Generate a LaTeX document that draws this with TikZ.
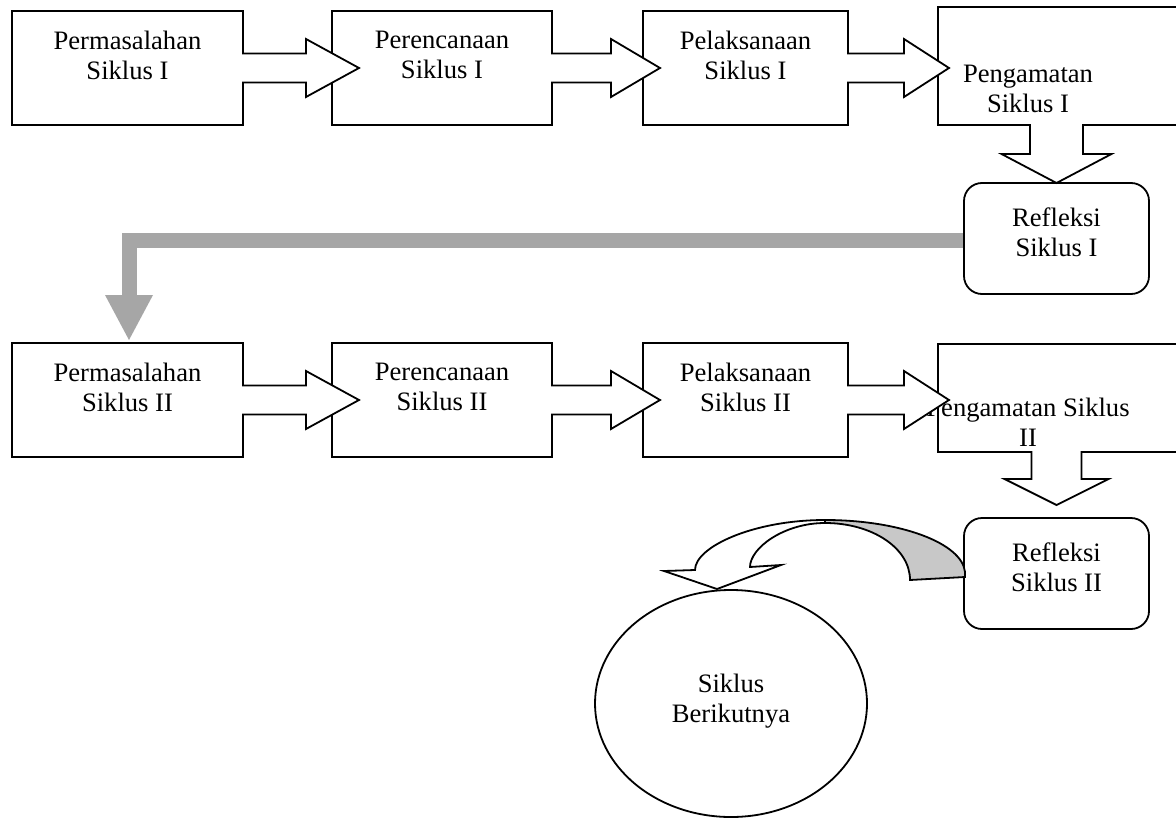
\documentclass[tikz,border=0pt]{standalone}
\usepackage{fontspec}
\setmainfont{Liberation Serif}
\usetikzlibrary{calc,shapes.geometric}
\definecolor{gbar}{HTML}{A6A6A6}
\definecolor{gface}{HTML}{C8C8C8}
% right block arrow: #1 start anchor, #2 shaft length, #3 head length (px)
\newcommand\blockR[3]{%
  \begin{scope}[shift={(#1)}]
    \fill[white] (-2,-14.5) -- (#2,-14.5) -- (#2,-29) -- ({#2+#3},0) -- (#2,29) -- (#2,14.5) -- (-2,14.5) -- cycle;
    \draw[outl] (-0.9,-14.5) -- (#2,-14.5) -- (#2,-29) -- ({#2+#3},0) -- (#2,29) -- (#2,14.5) -- (-0.9,14.5);
  \end{scope}}
% down block arrow: #1 start, #2 shaft length, #3 head length, #4 shaft half width, #5 head half width
\newcommand\blockD[5]{%
  \begin{scope}[shift={(#1)}]
    \fill[white] (-#4,-2) -- (-#4,#2) -- (-#5,#2) -- (0,{#2+#3}) -- (#5,#2) -- (#4,#2) -- (#4,-2) -- cycle;
    \draw[outl] (-#4,-0.9) -- (-#4,#2) -- (-#5,#2) -- (0,{#2+#3}) -- (#5,#2) -- (#4,#2) -- (#4,-0.9);
  \end{scope}}
\begin{document}
\begin{tikzpicture}[x=0.5pt,y=-0.5pt,
  font=\fontsize{13.3}{15}\selectfont,
  box/.style={draw, line width=0.9pt, fill=white, inner sep=0pt, outer sep=0pt, anchor=north west, minimum height=57pt},
  rbox/.style={box, rounded corners=9pt, minimum width=92.5pt, minimum height=55.5pt},
  lbl/.style={align=center, inner sep=0pt},
  outl/.style={line width=0.9pt, line join=miter}]
\clip (0,0) rectangle (1176,818);
\fill[white] (0,0) rectangle (1176,818);

% row 1 boxes
\node[box, minimum width=115.5pt] (b1) at (12,11) {};
\node[box, minimum width=110pt]   (b2) at (332,11) {};
\node[box, minimum width=102.5pt] (b3) at (643,11) {};
\node[box, minimum width=130pt, minimum height=59pt] (b4) at (938,7) {};
% row 2 boxes
\node[box, minimum width=115.5pt] (b5) at (12,343) {};
\node[box, minimum width=110pt]   (b6) at (332,343) {};
\node[box, minimum width=102.5pt] (b7) at (643,343) {};
\node[box, minimum width=130pt, minimum height=54pt] (b8) at (938,344) {};
% reflection boxes
\node[rbox] (r1) at (964,183) {};
\node[rbox] (r2) at (964,518) {};
% next cycle
\node[draw, ellipse, line width=0.9pt, minimum width=136pt, minimum height=113.5pt, inner sep=0pt] (e) at (731,703.5) {};

% labels
\node[lbl] (t1) at (127.5,55) {Permasalahan\\Siklus I};
\node[lbl] (t2) at (442,55) {Perencanaan\\Siklus I};
\node[lbl] (t3) at (745.5,55) {Pelaksanaan\\Siklus I};
\node[lbl] (t4) at (1028,89) {Pengamatan\\Siklus I};
\node[lbl] (t5) at (127.5,387) {Permasalahan\\Siklus II};
\node[lbl] (t6) at (442,387) {Perencanaan\\Siklus II};
\node[lbl] (t7) at (745.5,387) {Pelaksanaan\\Siklus II};
\node[lbl] (t8) at (1028,422) {Pengamatan Siklus\\II};
\node[lbl] (tr1) at (1056.5,232) {Refleksi\\Siklus I};
\node[lbl] (tr2) at (1056.5,567) {Refleksi\\Siklus II};
\node[lbl] (te) at (731,701) {Siklus\\Berikutnya};

% block arrows row 1
\blockR{b1.east}{63}{53}
\blockR{b2.east}{59}{49}
\blockR{b3.east}{56}{45}
\blockD{r1.north |- b4.south}{29}{29}{26.5}{55}
% block arrows row 2
\blockR{b5.east}{63}{53}
\blockR{b6.east}{59}{49}
\blockR{b7.east}{56}{45}
\blockD{r2.north |- b8.south}{27}{26}{25}{52}

% grey feedback arrow
\coordinate (gk) at (129,240.5);
\coordinate (gtip) at (129,340);
\draw[gbar, line width=7.5pt, line join=miter] ([xshift=-0.45pt,yshift=-1pt]r1.west) -- (gk) -- ++(0,56);
\fill[gbar] ($(gtip)+(-24,-45)$) -- ($(gtip)+(24,-45)$) -- (gtip) -- cycle;

% curved arrow to next cycle
\filldraw[fill=gface, outl] (965,572) .. controls (962,543) and (900,520) .. (825,520) -- (825,523) .. controls (872,523) and (910,548) .. (910,580) -- (965,577) -- cycle;
\filldraw[fill=white, outl] (825,520) .. controls (753,520) and (695,547) .. (695,570) -- (664,571) -- (717,589) -- (781,565) -- (750,567) .. controls (750,548) and (784,523) .. (825,523) -- cycle;
\end{tikzpicture}
\end{document}
